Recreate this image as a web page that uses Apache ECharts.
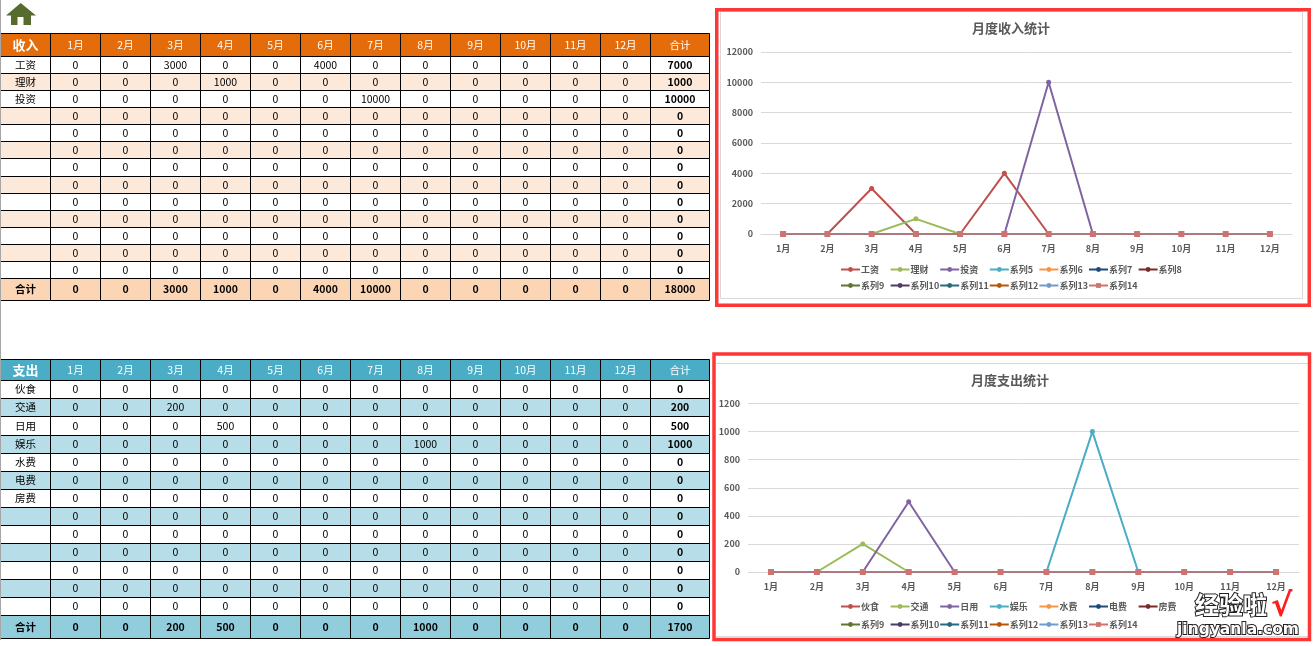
<!DOCTYPE html>
<html>
<head>
<meta charset="utf-8">
<title>月度收支统计</title>
<style>
  html, body { margin: 0; padding: 0; background: #fff; }
  #chart { width: 1316px; height: 646px; }
</style>
<script src="https://cdn.jsdelivr.net/npm/echarts@6/dist/echarts.min.js"></script>
</head>
<body>
<div id="chart"></div>
<script>
const months = ['1月','2月','3月','4月','5月','6月','7月','8月','9月','10月','11月','12月'];

// 收入表
const incomeLabels = ['工资','理财','投资','','','','','','','','','',''];
const incomeSeriesNames = ['工资','理财','投资','系列5','系列6','系列7','系列8','系列9','系列10','系列11','系列12','系列13','系列14'];
const incomeRows = [
  [0,0,3000,0,0,4000,0,0,0,0,0,0],
  [0,0,0,1000,0,0,0,0,0,0,0,0],
  [0,0,0,0,0,0,10000,0,0,0,0,0],
  [0,0,0,0,0,0,0,0,0,0,0,0],
  [0,0,0,0,0,0,0,0,0,0,0,0],
  [0,0,0,0,0,0,0,0,0,0,0,0],
  [0,0,0,0,0,0,0,0,0,0,0,0],
  [0,0,0,0,0,0,0,0,0,0,0,0],
  [0,0,0,0,0,0,0,0,0,0,0,0],
  [0,0,0,0,0,0,0,0,0,0,0,0],
  [0,0,0,0,0,0,0,0,0,0,0,0],
  [0,0,0,0,0,0,0,0,0,0,0,0],
  [0,0,0,0,0,0,0,0,0,0,0,0]
];
const incomeRowTotals = [7000,1000,10000,0,0,0,0,0,0,0,0,0,0];
const incomeMonthTotals = [0,0,3000,1000,0,4000,10000,0,0,0,0,0];
const incomeGrandTotal = 18000;

// 支出表
const expenseLabels = ['伙食','交通','日用','娱乐','水费','电费','房费','','','','','',''];
const expenseSeriesNames = ['伙食','交通','日用','娱乐','水费','电费','房费','系列9','系列10','系列11','系列12','系列13','系列14'];
const expenseRows = [
  [0,0,0,0,0,0,0,0,0,0,0,0],
  [0,0,200,0,0,0,0,0,0,0,0,0],
  [0,0,0,500,0,0,0,0,0,0,0,0],
  [0,0,0,0,0,0,0,1000,0,0,0,0],
  [0,0,0,0,0,0,0,0,0,0,0,0],
  [0,0,0,0,0,0,0,0,0,0,0,0],
  [0,0,0,0,0,0,0,0,0,0,0,0],
  [0,0,0,0,0,0,0,0,0,0,0,0],
  [0,0,0,0,0,0,0,0,0,0,0,0],
  [0,0,0,0,0,0,0,0,0,0,0,0],
  [0,0,0,0,0,0,0,0,0,0,0,0],
  [0,0,0,0,0,0,0,0,0,0,0,0],
  [0,0,0,0,0,0,0,0,0,0,0,0]
];
const expenseRowTotals = [0,200,500,1000,0,0,0,0,0,0,0,0,0];
const expenseMonthTotals = [0,0,200,500,0,0,0,1000,0,0,0,0];
const expenseGrandTotal = 1700;

const lineColors = ['#C0504D','#9BBB59','#8064A2','#4BACC6','#F79646','#1F497D','#772C2A','#5F7530','#4D3B62','#276A7C','#B65708','#729ACA','#CD7371'];
const FONT = '"Noto Sans CJK SC", sans-serif';
const GREY = '#595959';
const TOTAL_COL_SPAN = 1.18;

// 表格单元格：x 轴单位是一列，y 轴单位是一行
function tableCells(title, labels, rows, rowTotals, monthTotals, grand, headerSpan, totalSpan) {
  const cells = [];
  const add = (col, top, span, text, kind, zebra) => {
    const end = col === 13 ? col + TOTAL_COL_SPAN : col + 1;
    cells.push({ value: [col, end, top, top + span], text: String(text), kind: kind, zebra: zebra });
  };
  add(0, 0, headerSpan, title, 'title', false);
  months.forEach((m, i) => add(i + 1, 0, headerSpan, m, 'head', false));
  add(13, 0, headerSpan, '合计', 'head', false);
  rows.forEach((row, r) => {
    const top = headerSpan + r;
    const zebra = r % 2 === 1;
    add(0, top, 1, labels[r], 'label', zebra);
    row.forEach((v, i) => add(i + 1, top, 1, v, 'num', zebra));
    add(13, top, 1, rowTotals[r], 'bold', zebra);
  });
  const last = headerSpan + rows.length;
  add(0, last, totalSpan, '合计', 'foot', false);
  monthTotals.forEach((v, i) => add(i + 1, last, totalSpan, v, 'foot', false));
  add(13, last, totalSpan, grand, 'foot', false);
  return cells;
}

function tableSeries(axisIndex, cells, palette) {
  return {
    type: 'custom',
    xAxisIndex: axisIndex,
    yAxisIndex: axisIndex,
    silent: true,
    clip: false,
    encode: { x: [0, 1], y: [2, 3] },
    data: cells.map(c => c.value),
    renderItem: function (params, api) {
      const c = cells[params.dataIndex];
      const a = api.coord([api.value(0), api.value(2)]);
      const b = api.coord([api.value(1), api.value(3)]);
      const x = Math.round(a[0]) + 0.5, y = Math.round(a[1]) + 0.5;
      const w = Math.round(b[0]) - Math.round(a[0]), h = Math.round(b[1]) - Math.round(a[1]);
      let fill = c.zebra ? palette.zebra : '#fff';
      if (c.kind === 'title' || c.kind === 'head') fill = palette.head;
      if (c.kind === 'foot') fill = palette.foot;
      const head = c.kind === 'title' || c.kind === 'head';
      const bold = c.kind === 'title' || c.kind === 'bold' || c.kind === 'foot';
      return {
        type: 'group',
        children: [
          { type: 'rect', shape: { x: x, y: y, width: w, height: h }, style: { fill: fill, stroke: '#000', lineWidth: 1 } },
          { type: 'text', x: x + w / 2, y: y + h / 2, style: {
              text: c.text, fill: head ? '#fff' : '#000', align: 'center', verticalAlign: 'middle',
              fontFamily: FONT, fontWeight: bold ? 'bold' : 'normal',
              fontSize: c.kind === 'title' ? 13 : 10.5 } }
        ]
      };
    }
  };
}

function lineSeries(axisIndex, names, rows) {
  return names.map((name, i) => ({
    name: name,
    type: 'line',
    xAxisIndex: axisIndex,
    yAxisIndex: axisIndex,
    data: rows[i],
    symbol: i === names.length - 1 ? 'rect' : 'circle',
    symbolSize: i === names.length - 1 ? 6 : 5,
    showAllSymbol: true,
    // 全为 0 的系列压在零线上，线细一点
    lineStyle: { width: rows[i].some(v => v > 0) ? 2 : 1.5, color: lineColors[i] },
    itemStyle: { color: lineColors[i] },
    silent: true
  }));
}

function lineAxes(gridIndex, yMax, yStep) {
  return {
    x: {
      type: 'category', gridIndex: gridIndex, data: months, boundaryGap: true,
      axisLine: { lineStyle: { color: '#D9D9D9' } }, axisTick: { show: false },
      axisLabel: { color: GREY, fontFamily: FONT, fontSize: 9, fontWeight: 'bold', interval: 0, margin: 10 }
    },
    y: {
      type: 'value', gridIndex: gridIndex, min: 0, max: yMax, interval: yStep,
      axisLine: { show: false }, axisTick: { show: false },
      axisLabel: { color: GREY, fontFamily: FONT, fontSize: 9, fontWeight: 'bold', margin: 8, formatter: v => String(v) },
      splitLine: { lineStyle: { color: '#D9D9D9' } }
    }
  };
}

// Excel 的图例按列对齐，每项单独放一个 legend，前 7 项一行
function legendRows(names, topA, topB) {
  return names.map((name, i) => ({
    data: [name],
    left: 840 + 49.6 * (i % 7),
    top: i < 7 ? topA : topB,
    selectedMode: false,
    itemWidth: 19, itemHeight: 6, padding: 0,
    textStyle: { color: GREY, fontFamily: FONT, fontSize: 9, fontWeight: 'bold', padding: [0, 0, 0, -4] }
  }));
}

const incomeAxes = lineAxes(2, 12000, 2000);
const expenseAxes = lineAxes(3, 1200, 200);

const chart = echarts.init(document.getElementById('chart'));
chart.setOption({
  animation: false,
  title: [
    { text: '月度收入统计', left: 1006, top: 17, textAlign: 'center', textStyle: { color: GREY, fontFamily: FONT, fontSize: 13, fontWeight: 'bold' } },
    { text: '月度支出统计', left: 1005, top: 369, textAlign: 'center', textStyle: { color: GREY, fontFamily: FONT, fontSize: 13, fontWeight: 'bold' } }
  ],
  grid: [
    { left: 0, top: 33, width: 709, height: 267 },
    { left: 0, top: 359, width: 709, height: 279 },
    { left: 761, top: 52, width: 531, height: 182 },
    { left: 748, top: 403.5, width: 551, height: 168.5 }
  ],
  xAxis: [
    { type: 'value', gridIndex: 0, min: 0, max: 13 + TOTAL_COL_SPAN, show: false },
    { type: 'value', gridIndex: 1, min: 0, max: 13 + TOTAL_COL_SPAN, show: false },
    incomeAxes.x, expenseAxes.x
  ],
  yAxis: [
    { type: 'value', gridIndex: 0, min: 0, max: 1.35 + 13 + 1.29, inverse: true, show: false },
    { type: 'value', gridIndex: 1, min: 0, max: 1.19 + 13 + 1.29, inverse: true, show: false },
    incomeAxes.y, expenseAxes.y
  ],
  legend: legendRows(incomeSeriesNames, 265, 281).concat(legendRows(expenseSeriesNames, 602, 620)),
  series: [
    tableSeries(0, tableCells('收入', incomeLabels, incomeRows, incomeRowTotals, incomeMonthTotals, incomeGrandTotal, 1.35, 1.29),
      { head: '#E46C0A', zebra: '#FDE9D9', foot: '#FCD5B4' }),
    tableSeries(1, tableCells('支出', expenseLabels, expenseRows, expenseRowTotals, expenseMonthTotals, expenseGrandTotal, 1.19, 1.29),
      { head: '#4BACC6', zebra: '#B7DEE8', foot: '#92CDDC' })
  ].concat(lineSeries(2, incomeSeriesNames, incomeRows), lineSeries(3, expenseSeriesNames, expenseRows)),
  graphic: [
    // 左上角的小房子
    { type: 'polygon', shape: { points: [[6, 15.5], [20.7, 3], [36, 15.5], [31, 15.5], [31, 25], [11, 25], [11, 15.5]] }, style: { fill: '#566B2D' } },
    { type: 'rect', shape: { x: 17.5, y: 17, width: 6, height: 8 }, style: { fill: '#fff' } },
    // 表格左边的灰线
    { type: 'line', z: 20, shape: { x1: 0.5, y1: 0, x2: 0.5, y2: 640 }, style: { stroke: '#A6A6A6', lineWidth: 1 } },
    // 图表外框
    { type: 'rect', shape: { x: 720.5, y: 11.5, width: 582, height: 287 }, style: { fill: 'none', stroke: '#D9D9D9', lineWidth: 1 } },
    { type: 'line', shape: { x1: 716, y1: 363.5, x2: 1308, y2: 363.5 }, style: { stroke: '#D9D9D9', lineWidth: 1 } },
    { type: 'line', shape: { x1: 716, y1: 636.5, x2: 1308, y2: 636.5 }, style: { stroke: '#D9D9D9', lineWidth: 1 } },
    { type: 'rect', shape: { x: 716.75, y: 9.75, width: 592.5, height: 295.5 }, style: { fill: 'none', stroke: '#FF3636', lineWidth: 3.5 } },
    { type: 'rect', shape: { x: 714, y: 354, width: 595.5, height: 285.5 }, style: { fill: 'none', stroke: '#FF3636', lineWidth: 3.5 } },
    // 水印
    { type: 'text', x: 1195, y: 593, z: 20, style: { text: '经验啦', fontFamily: FONT, fontWeight: 'bold', fontSize: 24, fill: '#fff', stroke: '#222', lineWidth: 2 } },
    { type: 'text', x: 1271, y: 592, z: 20, style: { text: '√', fontFamily: '"DejaVu Sans"', fontWeight: 'bold', fontSize: 32, fill: '#FF1E1E' } },
    { type: 'text', x: 1177, y: 622, z: 20, style: { text: 'jingyanla.com', fontFamily: '"DejaVu Sans"', fontWeight: 'bold', fontSize: 15.5, fill: '#fff', stroke: '#222', lineWidth: 2 } }
  ]
});
</script>
</body>
</html>
